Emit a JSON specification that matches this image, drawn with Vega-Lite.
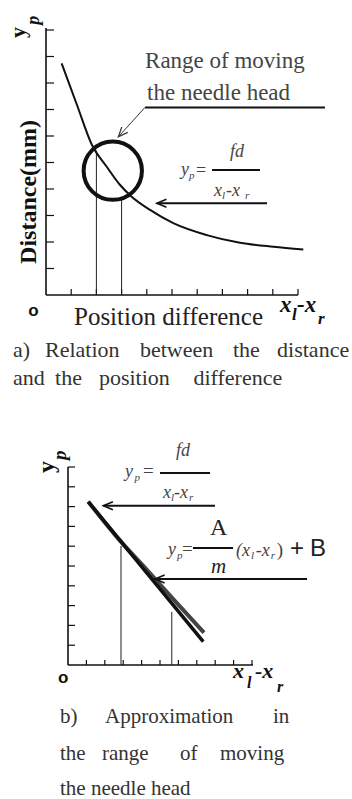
{
  "$schema": "https://vega.github.io/schema/vega-lite/v6.json",
  "width": 352,
  "height": 799,
  "autosize": {"type": "none"},
  "padding": 0,
  "background": "white",
  "config": {"view": {"stroke": null}},
  "datasets": {
    "a_frame": [{"x": 0, "y": 0, "x2": 10, "y2": 0}, {"x": 0, "y": 0, "x2": 0, "y2": 10.08}],
    "a_xticks": [{"x": 1, "y": 0}, {"x": 2, "y": 0}, {"x": 3, "y": 0}, {"x": 4, "y": 0}, {"x": 5, "y": 0}, {"x": 6, "y": 0}, {"x": 7, "y": 0}, {"x": 8, "y": 0}, {"x": 9, "y": 0}, {"x": 10, "y": 0}],
    "a_yticks": [{"x": 0, "y": 1}, {"x": 0, "y": 2}, {"x": 0, "y": 3}, {"x": 0, "y": 4}, {"x": 0, "y": 5}, {"x": 0, "y": 6}, {"x": 0, "y": 7}, {"x": 0, "y": 8}, {"x": 0, "y": 9}, {"x": 0, "y": 10}],
    "a_guides": [{"x": 2, "y": 0, "x2": 2, "y2": 5.45}, {"x": 3, "y": 0, "x2": 3, "y2": 3.6}],
    "a_thin": [{"x": 3.93, "y": 7.08, "x2": 2.87, "y2": 5.97}],
    "a_bars": [
      {"x": 3.93, "y": 7.08, "x2": 11.07, "y2": 7.08},
      {"x": 6.59, "y": 4.72, "x2": 8.49, "y2": 4.72},
      {"x": 4.4, "y": 3.46, "x2": 8.77, "y2": 3.46}
    ],
    "a_curve": [
      {"x": 0.62, "y": 8.74}, {"x": 1.23, "y": 7.17}, {"x": 1.81, "y": 5.69}, {"x": 2.41, "y": 4.84},
      {"x": 2.94, "y": 4.15}, {"x": 3.4, "y": 3.71}, {"x": 4.13, "y": 3.21}, {"x": 5.05, "y": 2.71},
      {"x": 6.38, "y": 2.26}, {"x": 7.7, "y": 1.97}, {"x": 9.02, "y": 1.82}, {"x": 10.21, "y": 1.72}
    ],
    "a_range": [{"x": 2.65, "y": 4.69}],
    "a_head_diag": [{"x": 2.87, "y": 5.97}],
    "a_head_left": [{"x": 4.4, "y": 3.46}],
    "a_text": [
      {"role": "note", "text": "Range of moving", "x": 3.93, "y": 8.57},
      {"role": "note", "text": "the needle head", "x": 4.01, "y": 7.36},
      {"role": "math", "text": "fd", "x": 7.3, "y": 5.21},
      {"role": "math", "text": "y", "x": 5.36, "y": 4.53},
      {"role": "eq", "text": "=", "x": 5.95, "y": 4.49},
      {"role": "math", "text": "x", "x": 6.67, "y": 3.74},
      {"role": "math", "text": "-x", "x": 7.14, "y": 3.74},
      {"role": "sub", "text": "p", "x": 5.67, "y": 4.38},
      {"role": "sub", "text": "l", "x": 6.98, "y": 3.62},
      {"role": "sub", "text": "r", "x": 7.9, "y": 3.62},
      {"role": "title", "text": "Position difference", "x": 1.11, "y": -1.13},
      {"role": "sym", "text": "x", "x": 9.29, "y": -0.64},
      {"role": "sym", "text": "-x", "x": 9.96, "y": -0.64},
      {"role": "symsub", "text": "l", "x": 9.76, "y": -0.94},
      {"role": "symsub", "text": "r", "x": 10.79, "y": -1.09},
      {"role": "origin", "text": "o", "x": -0.5, "y": -0.79},
      {"role": "ytitle", "text": "Distance(mm)", "x": -0.67, "y": 3.89},
      {"role": "ysym", "text": "y", "x": -0.833, "y": 9.7},
      {"role": "ysymsub", "text": "p", "x": -0.28, "y": 10.2},
      {"role": "cap", "text": "a)", "x": -1.31, "y": -2.34},
      {"role": "cap", "text": "Relation", "x": -0.04, "y": -2.34},
      {"role": "cap", "text": "between", "x": 3.73, "y": -2.34},
      {"role": "cap", "text": "the", "x": 7.42, "y": -2.34},
      {"role": "cap", "text": "distance", "x": 9.17, "y": -2.34},
      {"role": "cap", "text": "and", "x": -1.31, "y": -3.4},
      {"role": "cap", "text": "the", "x": 0.36, "y": -3.4},
      {"role": "cap", "text": "position", "x": 2.1, "y": -3.4},
      {"role": "cap", "text": "difference", "x": 5.85, "y": -3.4}
    ],
    "b_frame": [{"x": 0, "y": 0, "x2": 10.05, "y2": 0}, {"x": 0, "y": 0, "x2": 0, "y2": 10}],
    "b_xticks": [{"x": 1, "y": 0}, {"x": 2, "y": 0}, {"x": 3, "y": 0}, {"x": 4, "y": 0}, {"x": 5, "y": 0}, {"x": 6, "y": 0}, {"x": 7, "y": 0}, {"x": 8, "y": 0}, {"x": 9, "y": 0}, {"x": 10, "y": 0}],
    "b_yticks": [{"x": 0, "y": 1}, {"x": 0, "y": 2}, {"x": 0, "y": 3}, {"x": 0, "y": 4}, {"x": 0, "y": 5}, {"x": 0, "y": 6}, {"x": 0, "y": 7}, {"x": 0, "y": 8}, {"x": 0, "y": 9}, {"x": 0, "y": 10}],
    "b_guides": [{"x": 2.88, "y": 0, "x2": 2.88, "y2": 6.01}, {"x": 5.64, "y": 0, "x2": 5.64, "y2": 2.68}],
    "b_bars": [
      {"x": 1.92, "y": 8.04, "x2": 7.99, "y2": 8.04},
      {"x": 4.73, "y": 4.34, "x2": 12.99, "y2": 4.34},
      {"x": 5.0, "y": 9.7, "x2": 7.72, "y2": 9.7},
      {"x": 6.79, "y": 5.91, "x2": 8.97, "y2": 5.91}
    ],
    "b_line": [{"x": 1.1, "y": 8.25}, {"x": 7.35, "y": 1.18}],
    "b_curve": [{"x": 1.1, "y": 8.25}, {"x": 2.66, "y": 6.46}, {"x": 4.24, "y": 4.85}, {"x": 5.82, "y": 3.23}, {"x": 7.39, "y": 1.63}],
    "b_head_left": [{"x": 1.92, "y": 8.04}, {"x": 4.73, "y": 4.34}],
    "b_text": [
      {"role": "math", "text": "fd", "x": 5.87, "y": 10.56},
      {"role": "math", "text": "y", "x": 3.1, "y": 9.49},
      {"role": "eq", "text": "=", "x": 4.08, "y": 9.49},
      {"role": "math", "text": "x", "x": 5.16, "y": 8.43},
      {"role": "math", "text": "-x", "x": 5.76, "y": 8.43},
      {"role": "sub", "text": "p", "x": 3.62, "y": 9.29},
      {"role": "sub", "text": "l", "x": 5.6, "y": 8.28},
      {"role": "sub", "text": "r", "x": 6.58, "y": 8.28},
      {"role": "big", "text": "A", "x": 7.72, "y": 6.57},
      {"role": "math", "text": "y", "x": 5.43, "y": 5.56},
      {"role": "sub", "text": "p", "x": 5.92, "y": 5.35},
      {"role": "eq", "text": "=", "x": 6.2, "y": 5.56},
      {"role": "math", "text": "(x", "x": 9.13, "y": 5.51},
      {"role": "sub", "text": "l", "x": 9.95, "y": 5.35},
      {"role": "math", "text": "-x", "x": 10.2, "y": 5.51},
      {"role": "sub", "text": "r", "x": 11.02, "y": 5.35},
      {"role": "eq", "text": ")", "x": 11.35, "y": 5.51},
      {"role": "sans", "text": "+", "x": 12.07, "y": 5.51},
      {"role": "sans", "text": "B", "x": 13.15, "y": 5.51},
      {"role": "mathm", "text": "m", "x": 7.77, "y": 4.65},
      {"role": "sym", "text": "x", "x": 8.97, "y": -0.66},
      {"role": "sym", "text": "-x", "x": 10.16, "y": -0.66},
      {"role": "symsub", "text": "l", "x": 9.73, "y": -1.16},
      {"role": "symsub", "text": "r", "x": 11.36, "y": -1.36},
      {"role": "origin", "text": "o", "x": -0.255, "y": -0.91},
      {"role": "ysym", "text": "y", "x": -0.761, "y": 9.7},
      {"role": "ysymsub", "text": "p", "x": -0.11, "y": 10.35},
      {"role": "cap", "text": "b)", "x": -0.435, "y": -2.93},
      {"role": "cap", "text": "Approximation", "x": 2.01, "y": -2.93},
      {"role": "cap", "text": "in", "x": 11.14, "y": -2.93},
      {"role": "cap", "text": "the", "x": -0.435, "y": -4.8},
      {"role": "cap", "text": "range", "x": 1.85, "y": -4.8},
      {"role": "cap", "text": "of", "x": 6.09, "y": -4.8},
      {"role": "cap", "text": "moving", "x": 8.26, "y": -4.8},
      {"role": "cap", "text": "the needle head", "x": -0.435, "y": -6.57}
    ]
  },
  "layer": [
    {
      "encoding": {
        "x": {"field": "x", "type": "quantitative", "scale": {"domain": [-1.8254, 12.1429], "nice": false, "zero": false}, "axis": null},
        "y": {"field": "y", "type": "quantitative", "scale": {"domain": [-19.019, 11.132], "nice": false, "zero": false}, "axis": null}
      },
      "layer": [
        {"data": {"name": "a_frame"}, "mark": {"type": "rule", "color": "#111", "strokeWidth": 1.6}, "encoding": {"x2": {"field": "x2"}, "y2": {"field": "y2"}}},
        {"data": {"name": "a_xticks"}, "mark": {"type": "rule", "color": "#111", "strokeWidth": 1.2, "y2Offset": -6}, "encoding": {"y2": {"field": "y"}}},
        {"data": {"name": "a_yticks"}, "mark": {"type": "rule", "color": "#111", "strokeWidth": 1.2, "x2Offset": 8}, "encoding": {"x2": {"field": "x"}}},
        {"data": {"name": "a_guides"}, "mark": {"type": "rule", "color": "#222", "strokeWidth": 1}, "encoding": {"x2": {"field": "x2"}, "y2": {"field": "y2"}}},
        {"data": {"name": "a_thin"}, "mark": {"type": "rule", "color": "#333", "strokeWidth": 1}, "encoding": {"x2": {"field": "x2"}, "y2": {"field": "y2"}}},
        {"data": {"name": "a_bars"}, "mark": {"type": "rule", "color": "#111", "strokeWidth": 2}, "encoding": {"x2": {"field": "x2"}, "y2": {"field": "y2"}}},
        {"data": {"name": "a_curve"}, "mark": {"type": "line", "color": "#111", "strokeWidth": 2, "interpolate": "monotone"}, "encoding": {}},
        {"data": {"name": "a_range"}, "mark": {"type": "point", "shape": "circle", "size": 3400, "filled": false, "stroke": "#111", "strokeWidth": 4, "opacity": 1}},
        {"data": {"name": "a_head_diag"}, "mark": {"type": "point", "shape": "M2.4,-1L0,0L2.4,1", "size": 64, "angle": 312, "filled": false, "stroke": "#333", "strokeWidth": 1.2, "opacity": 1}},
        {"data": {"name": "a_head_left"}, "mark": {"type": "point", "shape": "M2.4,-1L0,0L2.4,1", "size": 64, "filled": false, "stroke": "#111", "strokeWidth": 1.6, "opacity": 1}},
        {"data": {"name": "a_text"}, "transform": [{"filter": "datum.role === 'note'"}], "mark": {"type": "text", "font": "Liberation Serif", "fontSize": 23, "align": "left", "baseline": "alphabetic", "color": "#444"}, "encoding": {"text": {"field": "text"}}},
        {"data": {"name": "a_text"}, "transform": [{"filter": "datum.role === 'math'"}], "mark": {"type": "text", "font": "Liberation Serif", "fontStyle": "italic", "fontSize": 18, "align": "left", "baseline": "alphabetic", "color": "#444"}, "encoding": {"text": {"field": "text"}}},
        {"data": {"name": "a_text"}, "transform": [{"filter": "datum.role === 'eq'"}], "mark": {"type": "text", "font": "Liberation Serif", "fontSize": 18, "align": "left", "baseline": "alphabetic", "color": "#444"}, "encoding": {"text": {"field": "text"}}},
        {"data": {"name": "a_text"}, "transform": [{"filter": "datum.role === 'sub'"}], "mark": {"type": "text", "font": "Liberation Serif", "fontStyle": "italic", "fontSize": 11, "align": "left", "baseline": "alphabetic", "color": "#444"}, "encoding": {"text": {"field": "text"}}},
        {"data": {"name": "a_text"}, "transform": [{"filter": "datum.role === 'title'"}], "mark": {"type": "text", "font": "Liberation Serif", "fontSize": 25, "align": "left", "baseline": "alphabetic", "color": "#222"}, "encoding": {"text": {"field": "text"}}},
        {"data": {"name": "a_text"}, "transform": [{"filter": "datum.role === 'sym'"}], "mark": {"type": "text", "font": "Liberation Serif", "fontStyle": "italic", "fontWeight": "bold", "fontSize": 23, "align": "left", "baseline": "alphabetic", "color": "#111"}, "encoding": {"text": {"field": "text"}}},
        {"data": {"name": "a_text"}, "transform": [{"filter": "datum.role === 'symsub'"}], "mark": {"type": "text", "font": "Liberation Serif", "fontStyle": "italic", "fontWeight": "bold", "fontSize": 17, "align": "left", "baseline": "alphabetic", "color": "#111"}, "encoding": {"text": {"field": "text"}}},
        {"data": {"name": "a_text"}, "transform": [{"filter": "datum.role === 'origin'"}], "mark": {"type": "text", "font": "Liberation Sans", "fontWeight": "bold", "fontSize": 17, "align": "center", "baseline": "alphabetic", "color": "#111"}, "encoding": {"text": {"field": "text"}}},
        {"data": {"name": "a_text"}, "transform": [{"filter": "datum.role === 'ytitle'"}], "mark": {"type": "text", "font": "Liberation Serif", "fontWeight": "bold", "fontSize": 24, "angle": 270, "align": "center", "baseline": "middle", "color": "#111"}, "encoding": {"text": {"field": "text"}}},
        {"data": {"name": "a_text"}, "transform": [{"filter": "datum.role === 'ysym'"}], "mark": {"type": "text", "font": "Liberation Serif", "fontWeight": "bold", "fontSize": 22, "angle": 270, "align": "left", "baseline": "alphabetic", "color": "#111"}, "encoding": {"text": {"field": "text"}}},
        {"data": {"name": "a_text"}, "transform": [{"filter": "datum.role === 'ysymsub'"}], "mark": {"type": "text", "font": "Liberation Serif", "fontWeight": "bold", "fontStyle": "italic", "fontSize": 18, "angle": 270, "align": "left", "baseline": "alphabetic", "color": "#111"}, "encoding": {"text": {"field": "text"}}},
        {"data": {"name": "a_text"}, "transform": [{"filter": "datum.role === 'cap'"}], "mark": {"type": "text", "font": "Liberation Serif", "fontSize": 22, "align": "left", "baseline": "alphabetic", "color": "#333"}, "encoding": {"text": {"field": "text"}}}
      ]
    },
    {
      "encoding": {
        "x": {"field": "x", "type": "quantitative", "scale": {"domain": [-3.6957, 15.4348], "nice": false, "zero": false}, "axis": null},
        "y": {"field": "y", "type": "quantitative", "scale": {"domain": [-6.768, 33.586], "nice": false, "zero": false}, "axis": null}
      },
      "layer": [
        {"data": {"name": "b_frame"}, "mark": {"type": "rule", "color": "#111", "strokeWidth": 1.6}, "encoding": {"x2": {"field": "x2"}, "y2": {"field": "y2"}}},
        {"data": {"name": "b_xticks"}, "mark": {"type": "rule", "color": "#111", "strokeWidth": 1.2, "y2Offset": -5}, "encoding": {"y2": {"field": "y"}}},
        {"data": {"name": "b_yticks"}, "mark": {"type": "rule", "color": "#111", "strokeWidth": 1.2, "x2Offset": 7}, "encoding": {"x2": {"field": "x"}}},
        {"data": {"name": "b_guides"}, "mark": {"type": "rule", "color": "#222", "strokeWidth": 1}, "encoding": {"x2": {"field": "x2"}, "y2": {"field": "y2"}}},
        {"data": {"name": "b_bars"}, "mark": {"type": "rule", "color": "#111", "strokeWidth": 2}, "encoding": {"x2": {"field": "x2"}, "y2": {"field": "y2"}}},
        {"data": {"name": "b_curve"}, "mark": {"type": "line", "color": "#444", "strokeWidth": 4, "interpolate": "monotone"}, "encoding": {}},
        {"data": {"name": "b_line"}, "mark": {"type": "line", "color": "#111", "strokeWidth": 3.5}, "encoding": {}},
        {"data": {"name": "b_head_left"}, "mark": {"type": "point", "shape": "M2.4,-1L0,0L2.4,1", "size": 64, "filled": false, "stroke": "#111", "strokeWidth": 1.6, "opacity": 1}},
        {"data": {"name": "b_text"}, "transform": [{"filter": "datum.role === 'math'"}], "mark": {"type": "text", "font": "Liberation Serif", "fontStyle": "italic", "fontSize": 18, "align": "left", "baseline": "alphabetic", "color": "#444"}, "encoding": {"text": {"field": "text"}}},
        {"data": {"name": "b_text"}, "transform": [{"filter": "datum.role === 'mathm'"}], "mark": {"type": "text", "font": "Liberation Serif", "fontStyle": "italic", "fontSize": 21, "align": "left", "baseline": "alphabetic", "color": "#222"}, "encoding": {"text": {"field": "text"}}},
        {"data": {"name": "b_text"}, "transform": [{"filter": "datum.role === 'eq'"}], "mark": {"type": "text", "font": "Liberation Serif", "fontSize": 19, "align": "left", "baseline": "alphabetic", "color": "#444"}, "encoding": {"text": {"field": "text"}}},
        {"data": {"name": "b_text"}, "transform": [{"filter": "datum.role === 'big'"}], "mark": {"type": "text", "font": "Liberation Serif", "fontSize": 24, "align": "left", "baseline": "alphabetic", "color": "#222"}, "encoding": {"text": {"field": "text"}}},
        {"data": {"name": "b_text"}, "transform": [{"filter": "datum.role === 'sans'"}], "mark": {"type": "text", "font": "Liberation Sans", "fontSize": 24, "align": "left", "baseline": "alphabetic", "color": "#222"}, "encoding": {"text": {"field": "text"}}},
        {"data": {"name": "b_text"}, "transform": [{"filter": "datum.role === 'sub'"}], "mark": {"type": "text", "font": "Liberation Serif", "fontStyle": "italic", "fontSize": 11, "align": "left", "baseline": "alphabetic", "color": "#444"}, "encoding": {"text": {"field": "text"}}},
        {"data": {"name": "b_text"}, "transform": [{"filter": "datum.role === 'sym'"}], "mark": {"type": "text", "font": "Liberation Serif", "fontStyle": "italic", "fontWeight": "bold", "fontSize": 22, "align": "left", "baseline": "alphabetic", "color": "#111"}, "encoding": {"text": {"field": "text"}}},
        {"data": {"name": "b_text"}, "transform": [{"filter": "datum.role === 'symsub'"}], "mark": {"type": "text", "font": "Liberation Serif", "fontStyle": "italic", "fontWeight": "bold", "fontSize": 16, "align": "left", "baseline": "alphabetic", "color": "#111"}, "encoding": {"text": {"field": "text"}}},
        {"data": {"name": "b_text"}, "transform": [{"filter": "datum.role === 'origin'"}], "mark": {"type": "text", "font": "Liberation Sans", "fontWeight": "bold", "fontSize": 17, "align": "center", "baseline": "alphabetic", "color": "#111"}, "encoding": {"text": {"field": "text"}}},
        {"data": {"name": "b_text"}, "transform": [{"filter": "datum.role === 'ysym'"}], "mark": {"type": "text", "font": "Liberation Serif", "fontWeight": "bold", "fontSize": 24, "angle": 270, "align": "left", "baseline": "alphabetic", "color": "#111"}, "encoding": {"text": {"field": "text"}}},
        {"data": {"name": "b_text"}, "transform": [{"filter": "datum.role === 'ysymsub'"}], "mark": {"type": "text", "font": "Liberation Serif", "fontWeight": "bold", "fontStyle": "italic", "fontSize": 19, "angle": 270, "align": "left", "baseline": "alphabetic", "color": "#111"}, "encoding": {"text": {"field": "text"}}},
        {"data": {"name": "b_text"}, "transform": [{"filter": "datum.role === 'cap'"}], "mark": {"type": "text", "font": "Liberation Serif", "fontSize": 21, "align": "left", "baseline": "alphabetic", "color": "#333"}, "encoding": {"text": {"field": "text"}}}
      ]
    }
  ],
  "resolve": {"scale": {"x": "independent", "y": "independent"}}
}
